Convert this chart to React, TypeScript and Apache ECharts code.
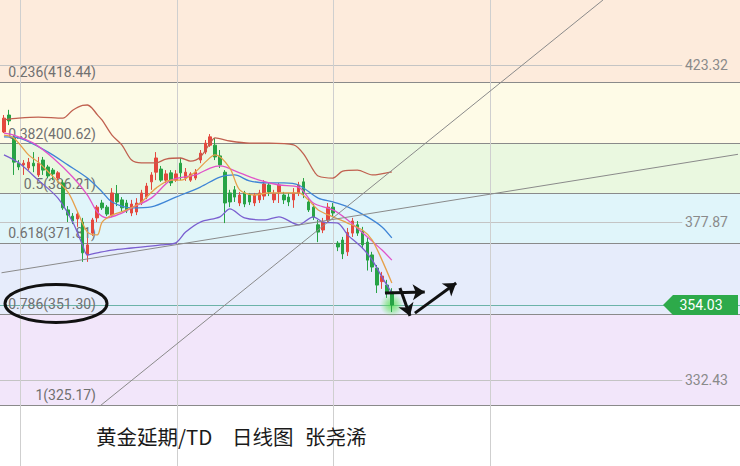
import React, { useEffect, useRef } from 'react';
import * as echarts from 'echarts';

// Fibonacci retracement levels (ratio, price)
const FIB_LEVELS = ['0.236', '0.382', '0.5', '0.618', '0.786', '1'];
const FIB_PRICES = [418.44, 400.62, 386.21, 371.81, 351.3, 325.17];
// background colours: above 0.236, 0.236-0.382, 0.382-0.5, 0.5-0.618, 0.618-0.786, 0.786-1
const BAND_COLORS = ['#fdebdc', '#fefbe7', '#eaf8e0', '#e0f5fa', '#e6ecfb', '#f2e6fa'];
const PRICE_TICKS = [423.32, 377.87, 332.43];
const LAST_PRICE = 354.03;
const Y_RANGE = [307.55, 442.12];
const SLOTS = 150;

// daily candles: [open, close, low, high]
const CANDLES: number[][] = [
  [404.0, 408.0, 403.7, 408.9], [408.9, 407.2, 406.0, 410.4], [402.3, 395.3, 391.6, 403.1], [395.0, 393.9, 393.0, 395.9],
  [394.5, 395.0, 391.6, 395.9], [393.6, 395.3, 393.0, 396.5], [395.0, 394.2, 392.4, 398.2], [391.6, 395.0, 391.0, 396.8],
  [395.9, 393.0, 391.6, 396.8], [393.9, 391.3, 390.7, 394.5], [393.0, 391.9, 390.1, 393.6], [390.7, 392.2, 390.1, 392.7],
  [389.3, 382.1, 381.5, 390.1], [381.5, 380.0, 378.0, 382.6], [379.7, 378.3, 377.4, 380.6], [378.9, 380.3, 376.6, 380.9],
  [378.0, 369.1, 366.5, 379.2], [368.5, 371.4, 366.5, 373.4], [374.8, 378.6, 374.0, 379.2], [379.2, 382.3, 378.0, 382.9],
  [383.5, 382.1, 381.5, 384.4], [382.3, 380.3, 379.7, 382.9], [380.0, 386.4, 379.4, 387.8], [386.1, 383.8, 382.6, 388.7],
  [384.4, 382.1, 380.9, 385.2], [383.5, 381.2, 380.6, 384.4], [380.6, 383.2, 379.7, 384.4], [380.9, 383.5, 380.0, 384.9],
  [383.5, 386.4, 382.9, 387.3], [385.2, 388.4, 384.6, 389.3], [389.6, 391.6, 387.3, 392.4], [392.4, 396.5, 390.1, 398.2],
  [393.3, 390.1, 389.6, 394.2], [390.1, 391.9, 389.3, 393.0], [392.2, 389.3, 388.4, 393.0], [390.1, 391.9, 389.6, 393.0],
  [395.0, 392.2, 390.1, 396.5], [390.7, 392.4, 389.9, 393.6], [390.1, 391.9, 389.6, 392.4], [390.7, 392.4, 390.1, 393.3],
  [395.9, 397.9, 395.0, 398.8], [398.2, 400.8, 397.6, 401.7], [400.2, 402.6, 399.7, 403.4], [400.2, 396.8, 395.9, 402.3],
  [397.1, 394.5, 393.6, 398.8], [392.4, 383.5, 377.7, 393.0], [386.4, 383.8, 382.3, 387.3], [387.3, 385.2, 383.8, 388.4],
  [383.5, 385.8, 382.6, 386.7], [386.4, 383.2, 382.3, 387.0], [385.8, 383.8, 382.9, 386.4], [383.5, 385.8, 382.6, 386.4],
  [384.4, 386.4, 383.5, 387.3], [385.5, 389.0, 384.4, 390.1], [388.7, 386.7, 385.5, 389.3], [384.4, 386.1, 383.5, 387.3],
  [386.7, 388.7, 383.5, 389.3], [385.8, 384.4, 383.2, 386.7], [385.2, 383.8, 382.6, 386.4], [384.4, 386.4, 382.1, 387.8],
  [386.4, 388.7, 385.5, 389.6], [389.6, 386.4, 384.9, 390.7], [383.8, 381.5, 380.9, 384.9], [382.3, 379.4, 378.6, 383.2],
  [377.2, 375.1, 372.2, 378.6], [375.7, 378.0, 374.8, 379.2], [378.6, 382.3, 377.7, 383.5], [382.3, 380.6, 379.4, 383.5],
  [371.9, 370.8, 369.6, 372.5], [372.8, 368.8, 367.3, 373.7], [369.4, 375.0, 368.2, 376.3], [374.8, 378.3, 373.7, 379.2],
  [377.2, 374.8, 374.0, 378.3], [375.4, 371.4, 370.2, 376.6], [372.2, 367.0, 364.0, 373.4], [368.5, 365.0, 363.6, 369.4],
  [364.7, 359.8, 357.5, 365.6], [360.8, 362.4, 358.7, 363.6], [359.8, 357.8, 356.1, 361.3], [357.8, 354.03, 352.0, 358.9],
];

// indicator lines: [candle index, price]
const BOLL_UPPER = [
  [0, 407.5], [3, 408.0], [7, 408.3], [12, 408.0], [14, 410.3], [16, 411.7], [17, 411.8], [18, 410.8], [19, 409.0],
  [20, 407.4], [22, 403.1], [24, 400.3], [26, 395.9], [28, 395.1], [31, 395.1], [33, 396.2], [36, 396.5], [38, 395.6],
  [40, 396.8], [42, 400.8], [43, 402.3], [46, 401.4], [50, 400.8], [54, 400.8], [59, 400.3], [61, 397.7], [63, 393.0],
  [64, 391.3], [67, 390.7], [69, 392.7], [72, 393.0], [75, 391.6], [79, 392.5],
];
const BOLL_MID = [
  [0, 402.6], [3, 402.3], [9, 398.2], [13, 394.5], [17, 390.7], [20, 386.7], [22, 383.8], [26, 382.1], [30, 382.4],
  [35, 385.2], [40, 388.1], [44, 391.0], [47, 391.6], [50, 389.9], [54, 389.3], [57, 389.3], [60, 388.7], [64, 384.9],
  [67, 383.8], [70, 382.4], [74, 379.5], [77, 376.6], [79, 373.4],
];
const BOLL_LOWER = [
  [0, 397.4], [3, 395.1], [7, 390.1], [11, 384.9], [14, 378.0], [16, 371.4], [17, 368.5], [19, 369.1], [22, 369.9],
  [26, 370.5], [32, 371.4], [35, 372.0], [37, 375.1], [40, 378.0], [44, 379.5], [46, 381.8], [49, 379.2], [53, 378.6],
  [56, 379.5], [60, 377.2], [63, 379.5], [65, 378.0], [68, 377.7], [70, 374.3], [73, 370.5], [75, 367.0], [77, 362.1],
  [79, 357.5],
];
const MA10 = [
  [0, 403.7], [2, 403.1], [6, 400.8], [10, 396.5], [14, 391.0], [17, 385.8], [19, 380.9], [21, 379.2], [24, 380.6],
  [26, 382.1], [30, 384.9], [34, 390.1], [39, 391.6], [42, 393.6], [44, 394.2], [48, 392.2], [52, 390.1], [56, 388.7],
  [60, 388.1], [63, 383.5], [67, 381.5], [70, 378.6], [74, 373.7], [77, 369.9], [79, 367.0],
];
const MA5 = [
  [0, 403.1], [2, 402.3], [5, 397.4], [7, 395.3], [9, 392.5], [13, 386.7], [15, 380.9], [17, 375.1], [19, 374.3],
  [20, 378.0], [22, 380.0], [25, 381.5], [28, 383.8], [31, 387.8], [34, 390.1], [36, 390.1], [39, 392.5], [41, 395.3],
  [43, 397.4], [46, 393.6], [48, 387.3], [51, 385.8], [54, 386.4], [60, 386.4], [62, 384.4], [64, 381.5], [67, 379.5],
  [70, 377.7], [73, 375.7], [75, 372.8], [77, 367.0], [79, 360.4],
];

// hand-drawn annotations in [candle index, price]
const TREND_LINES = [
  [[19.55, 324.88], [122.0, 442.12]],
  [[-0.5, 363.35], [149.5, 397.56]],
];
const ARROWS = [
  [[77.6, 357.5], [85.7, 357.8]],
  [[80.65, 358.95], [82.7, 350.9]],
  [[83.7, 351.7], [92.1, 360.4]],
];
const TIME_DIVIDERS = [3.3, 35.2, 67.0, 99.0];
const TITLE_PARTS = ['黄金延期/TD', '日线图', '张尧浠'];

const UP = '#e4483e';
const DOWN = '#27a345';

export default function App() {
  const ref = useRef<HTMLDivElement>(null);

  useEffect(() => {
    document.body.style.margin = '0';
    const chart = echarts.init(ref.current as HTMLDivElement, null, { renderer: 'svg' });
    const slots = Array.from({ length: SLOTS }, (_, i) => String(i));
    const edges = [Y_RANGE[1], ...FIB_PRICES];
    const bands = BAND_COLORS.map((c, k) => [
      { yAxis: edges[k], itemStyle: { color: c, opacity: 1 } },
      { yAxis: edges[k + 1] },
    ]);
    const lineSeries = (name: string, data: number[][], color: string) => ({
      name,
      type: 'line',
      xAxisIndex: 2,
      yAxisIndex: 1,
      data,
      symbol: 'none',
      smooth: 0.3,
      silent: true,
      z: 4,
      lineStyle: { color, width: 1.3 },
    });
    const hidden = { symbol: 'none', lineStyle: { opacity: 0 }, silent: true };

    chart.setOption({
      animation: false,
      grid: [
        { left: 0, right: 0, top: 0, bottom: 0 },
        { left: 1.5, right: 2, top: 0, bottom: 0 },
      ],
      xAxis: [
        { type: 'value', gridIndex: 0, min: 0, max: 1, show: false },
        { type: 'category', gridIndex: 1, data: slots, show: false, boundaryGap: true },
        { type: 'value', gridIndex: 1, min: -0.5, max: SLOTS - 0.5, show: false },
      ],
      yAxis: [
        { type: 'value', gridIndex: 0, min: Y_RANGE[0], max: Y_RANGE[1], show: false },
        { type: 'value', gridIndex: 1, min: Y_RANGE[0], max: Y_RANGE[1], show: false },
      ],
      series: [
        {
          type: 'line',
          xAxisIndex: 0,
          yAxisIndex: 0,
          data: [[0, Y_RANGE[0]]],
          ...hidden,
          z: 0,
          markArea: { silent: true, z: 0, label: { show: false }, data: bands },
          markLine: {
            silent: true,
            z: 1,
            symbol: 'none',
            label: { show: false },
            data: [
              ...PRICE_TICKS.map((v) => [
                { coord: [0, v], lineStyle: { color: '#c4c4c4', width: 1, type: 'solid' } },
                { coord: [0.922, v] },
              ]),
              ...FIB_PRICES.map((v) => ({ yAxis: v, lineStyle: { color: '#8a8a8a', width: 1, type: 'solid' } })),
              { yAxis: LAST_PRICE, lineStyle: { color: '#6cb3a8', width: 1, type: 'solid' } },
            ],
          },
        },
        {
          type: 'line',
          xAxisIndex: 2,
          yAxisIndex: 1,
          data: [[0, Y_RANGE[0]]],
          ...hidden,
          z: 1,
          markLine: {
            silent: true,
            z: 1,
            symbol: 'none',
            label: { show: false },
            lineStyle: { color: '#cfcfcf', width: 1, type: 'solid' },
            data: TIME_DIVIDERS.map((x) => ({ xAxis: x })),
          },
        },
        {
          type: 'scatter',
          xAxisIndex: 2,
          yAxisIndex: 1,
          data: [[CANDLES.length - 1, LAST_PRICE]],
          symbolSize: 24,
          silent: true,
          z: 2,
          itemStyle: {
            color: new echarts.graphic.RadialGradient(0.5, 0.5, 0.5, [
              { offset: 0, color: 'rgba(70,225,60,0.95)' },
              { offset: 0.5, color: 'rgba(90,225,80,0.55)' },
              { offset: 1, color: 'rgba(120,230,110,0)' },
            ]),
          },
        },
        {
          type: 'candlestick',
          xAxisIndex: 1,
          yAxisIndex: 1,
          data: CANDLES,
          barWidth: 3,
          silent: true,
          z: 3,
          itemStyle: { color: UP, color0: DOWN, borderColor: UP, borderColor0: DOWN, borderWidth: 1 },
        },
        lineSeries('BOLL上轨', BOLL_UPPER, '#c0604f'),
        lineSeries('BOLL中轨', BOLL_MID, '#3f85d6'),
        lineSeries('BOLL下轨', BOLL_LOWER, '#7a5fd0'),
        lineSeries('MA10', MA10, '#e052c9'),
        lineSeries('MA5', MA5, '#e6a04a'),
        {
          type: 'line',
          xAxisIndex: 2,
          yAxisIndex: 1,
          data: [[0, Y_RANGE[0]]],
          ...hidden,
          z: 5,
          markLine: {
            silent: true,
            z: 5,
            symbol: 'none',
            label: { show: false },
            lineStyle: { color: '#8a8a8a', width: 1, type: 'solid' },
            data: TREND_LINES.map(([a, b]) => [{ coord: a }, { coord: b }]),
          },
        },
        {
          type: 'line',
          xAxisIndex: 2,
          yAxisIndex: 1,
          data: [[0, Y_RANGE[0]]],
          ...hidden,
          z: 6,
          markLine: {
            silent: true,
            z: 6,
            symbol: ['none', 'arrow'],
            symbolSize: 12,
            label: { show: false },
            lineStyle: { color: '#111111', width: 3, type: 'solid' },
            data: ARROWS.map(([a, b]) => [{ coord: a }, { coord: b }]),
          },
        },
      ],
    });

    const py = (v: number) => chart.convertToPixel({ yAxisIndex: 0 }, v) as number;
    const font14 = '14px Roboto, "Liberation Sans", sans-serif';
    const graphic: any[] = [];
    FIB_PRICES.forEach((p, k) => {
      graphic.push({
        type: 'text',
        x: 96,
        y: py(p) - 10,
        z: 2,
        silent: true,
        style: {
          text: `${FIB_LEVELS[k]}(${p.toFixed(2)})`,
          fill: '#707070',
          font: font14,
          textAlign: 'right',
          textVerticalAlign: 'middle',
          align: 'right',
          verticalAlign: 'middle',
        },
      });
    });
    PRICE_TICKS.forEach((p) => {
      graphic.push({
        type: 'text',
        x: 728,
        y: py(p),
        z: 2,
        silent: true,
        style: {
          text: p.toFixed(2),
          fill: '#8a8a8a',
          font: font14,
          textAlign: 'right',
          textVerticalAlign: 'middle',
          align: 'right',
          verticalAlign: 'middle',
        },
      });
    });
    const ly = py(LAST_PRICE);
    graphic.push({
      type: 'polygon',
      z: 20,
      silent: true,
      shape: { points: [[663, ly], [673, ly - 10], [738, ly - 10], [738, ly + 10], [673, ly + 10]] },
      style: { fill: '#2daa4a' },
    });
    graphic.push({
      type: 'text',
      x: 701,
      y: ly,
      z: 21,
      silent: true,
      style: {
        text: LAST_PRICE.toFixed(2),
        fill: '#ffffff',
        font: font14,
        textAlign: 'center',
        textVerticalAlign: 'middle',
        align: 'center',
        verticalAlign: 'middle',
      },
    });
    graphic.push({
      type: 'ellipse',
      z: 20,
      silent: true,
      shape: { cx: 56, cy: py(FIB_PRICES[4]) - 11, rx: 51, ry: 19 },
      style: { fill: 'none', stroke: '#111111', lineWidth: 3 },
    });
    const titleX = [96, 232, 305];
    TITLE_PARTS.forEach((t, k) => {
      graphic.push({
        type: 'text',
        x: titleX[k],
        y: 436,
        z: 20,
        silent: true,
        style: {
          text: t,
          fill: '#1a1a1a',
          font: '20.5px "Noto Sans CJK SC", sans-serif',
          textAlign: 'left',
          textVerticalAlign: 'middle',
          align: 'left',
          verticalAlign: 'middle',
        },
      });
    });
    chart.setOption({ graphic });

    return () => chart.dispose();
  }, []);

  return <div ref={ref} style={{ width: 740, height: 466 }} />;
}
